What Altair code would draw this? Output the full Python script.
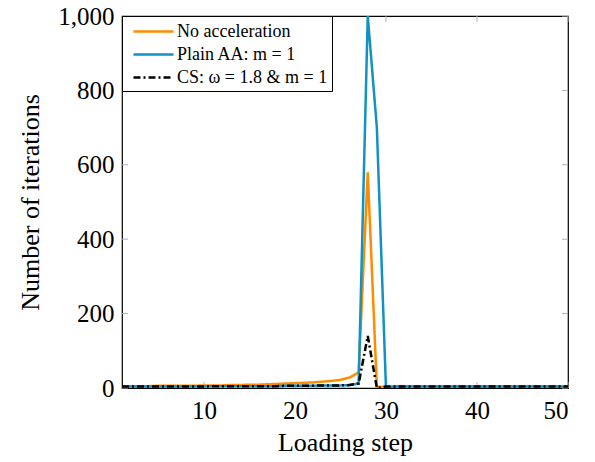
import altair as alt
import pandas as pd

steps = list(range(1, 51))

no_accel = [5, 5, 5, 5, 6, 6, 6, 6, 6, 7,
            7, 7, 8, 8, 9, 9, 10, 11, 12, 13,
            14, 15, 17, 19, 22, 28, 42, 580, 3, 4,
            4, 4, 4, 4, 4, 4, 4, 4, 4, 4,
            4, 4, 4, 4, 4, 4, 4, 4, 4, 4]

plain_aa = [4, 4, 4, 4, 4, 4, 4, 4, 4, 4,
            5, 5, 5, 5, 5, 5, 5, 5, 6, 6,
            6, 6, 7, 7, 7, 8, 12, 1000, 700, 0,
            4, 4, 4, 4, 4, 4, 4, 4, 4, 4,
            4, 4, 4, 4, 4, 4, 4, 4, 4, 4]

cs = [4, 4, 4, 4, 4, 4, 4, 4, 4, 4,
      5, 5, 5, 5, 5, 5, 5, 5, 6, 6,
      6, 6, 7, 7, 7, 8, 12, 140, 0, 4,
      4, 4, 4, 4, 4, 4, 4, 4, 4, 4,
      4, 4, 4, 4, 4, 4, 4, 4, 4, 4]

series_names = ["No acceleration", "Plain AA: m = 1", "CS: ω = 1.8 & m = 1"]
series_colors = ["#ff8c00", "#1192c2", "#000000"]
series_dash = [[1, 0], [1, 0], [7, 3, 2, 3]]

x_ticks = [10, 20, 30, 40, 50]
y_ticks = [0, 200, 400, 600, 800, 1000]

rows = []
for name, vals in zip(series_names, [no_accel, plain_aa, cs]):
    for s, v in zip(steps, vals):
        rows.append({"step": s, "iters": v, "series": name})
df = pd.DataFrame(rows)

W, H = 446, 372
FONT = "Liberation Serif"

xscale = alt.Scale(domain=[1, 50], nice=False, zero=False)
yscale = alt.Scale(domain=[0, 1000], nice=False)

legend_kw = dict(title=None, orient="none", legendX=0, legendY=0,
                 strokeColor="black", fillColor="white",
                 padding=4, symbolType="M-2,0H2",
                 symbolSize=400, symbolStrokeWidth=2.5,
                 symbolOffset=16,
                 labelFont=FONT, labelFontSize=18,
                 labelExpr="datum.label + '\u00a0\u00a0'",
                 labelColor="black", rowPadding=2,
                 labelOffset=12, cornerRadius=0)

lines = alt.Chart(df).mark_line(strokeWidth=2.5, clip=True).encode(
    x=alt.X("step:Q", scale=xscale,
            axis=alt.Axis(values=x_ticks, title="Loading step", grid=False,
                          domain=False, ticks=False, labelPadding=10,
                          titlePadding=6, labelFont=FONT, labelFontSize=25,
                          titleFont=FONT, titleFontSize=26)),
    y=alt.Y("iters:Q", scale=yscale,
            axis=alt.Axis(values=y_ticks, format=",d", title="Number of iterations",
                          grid=False, domain=False, ticks=False, labelPadding=8,
                          titlePadding=14, labelFont=FONT, labelFontSize=25,
                          titleFont=FONT, titleFontSize=26)),
    color=alt.Color("series:N",
                    scale=alt.Scale(domain=series_names, range=series_colors),
                    legend=alt.Legend(**legend_kw)),
    strokeDash=alt.StrokeDash("series:N",
                              scale=alt.Scale(domain=series_names, range=series_dash),
                              legend=alt.Legend(**legend_kw)),
)

xt = pd.DataFrame({"t": x_ticks})
yt = pd.DataFrame({"t": y_ticks})
tick_color = "#b0b0b0"

xticks_bottom = alt.Chart(xt).mark_rule(color=tick_color, strokeWidth=1).encode(
    x=alt.X("t:Q", scale=xscale), y=alt.value(H), y2=alt.value(H - 6))
xticks_top = alt.Chart(xt).mark_rule(color=tick_color, strokeWidth=1).encode(
    x=alt.X("t:Q", scale=xscale), y=alt.value(0), y2=alt.value(6))
yticks_left = alt.Chart(yt).mark_rule(color=tick_color, strokeWidth=1).encode(
    y=alt.Y("t:Q", scale=yscale), x=alt.value(0), x2=alt.value(6))
yticks_right = alt.Chart(yt).mark_rule(color=tick_color, strokeWidth=1).encode(
    y=alt.Y("t:Q", scale=yscale), x=alt.value(W), x2=alt.value(W - 6))

chart = alt.layer(xticks_bottom, xticks_top, yticks_left, yticks_right, lines).properties(
    width=W, height=H,
    autosize=alt.AutoSizeParams(type="none"),
    padding={"left": 122, "top": 16, "right": 595 - 122 - W, "bottom": 462 - 16 - H},
    background="white",
).configure_view(
    stroke="black", strokeWidth=1.2
).configure_axis(
    labelFont=FONT, labelFontSize=25, labelColor="black",
    titleFont=FONT, titleFontSize=26, titleColor="black", titleFontWeight="normal",
)

chart.save("out.html", embed_options={"renderer": "svg", "actions": False})
